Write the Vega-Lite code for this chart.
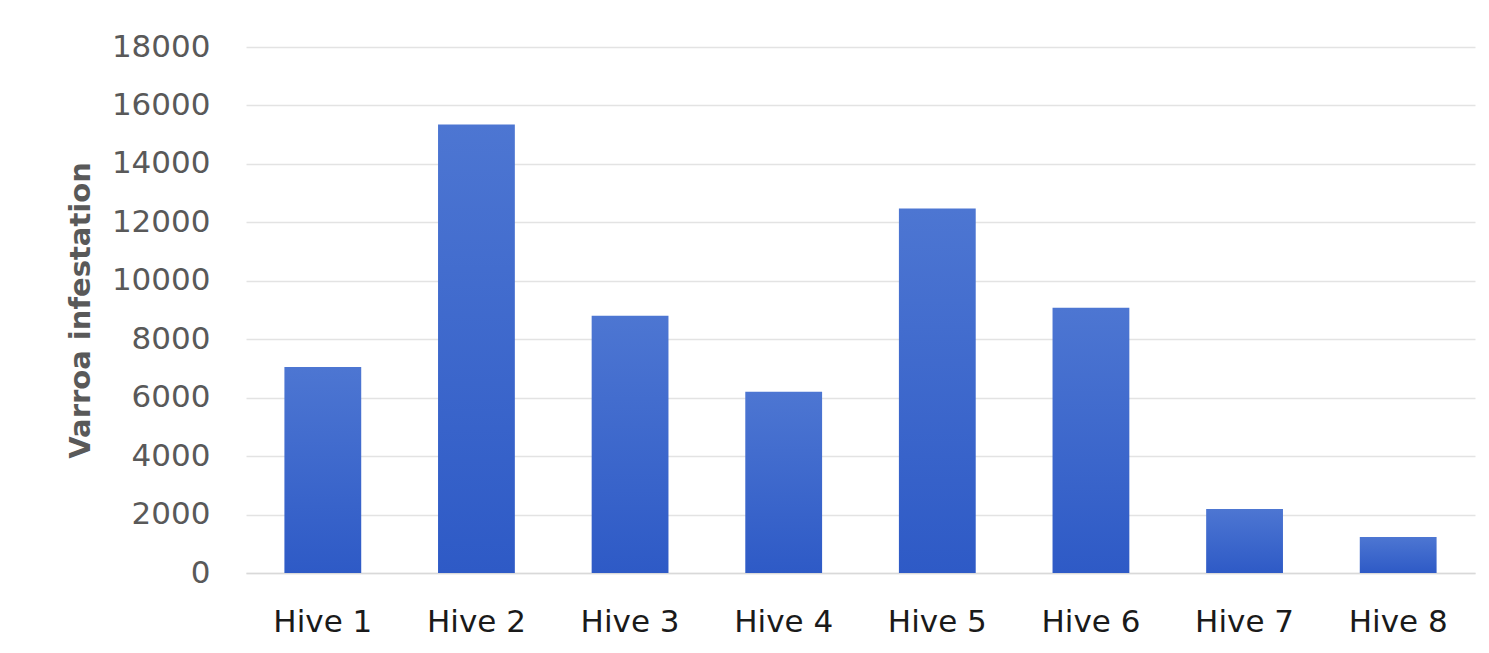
{
  "$schema": "https://vega.github.io/schema/vega-lite/v6.json",
  "autosize": "none",
  "width": 1229,
  "height": 526,
  "padding": {"left": 246, "top": 47, "right": 14, "bottom": 80},
  "background": "white",
  "config": {"view": {"stroke": null}, "font": "DejaVu Sans"},
  "data": {"values": [
    {"hive": "Hive 1", "value": 7050},
    {"hive": "Hive 2", "value": 15350},
    {"hive": "Hive 3", "value": 8800},
    {"hive": "Hive 4", "value": 6200},
    {"hive": "Hive 5", "value": 12470},
    {"hive": "Hive 6", "value": 9080},
    {"hive": "Hive 7", "value": 2190},
    {"hive": "Hive 8", "value": 1230}
  ]},
  "mark": {
    "type": "bar",
    "color": {
      "gradient": "linear", "x1": 0, "y1": 0, "x2": 0, "y2": 1,
      "stops": [{"offset": 0, "color": "#4d76d2"}, {"offset": 1, "color": "#2e5ac6"}]
    }
  },
  "encoding": {
    "x": {
      "field": "hive", "type": "nominal", "sort": null,
      "scale": {"paddingInner": 0.5, "paddingOuter": 0.25},
      "axis": {
        "title": null, "labelAngle": 0, "ticks": false,
        "labelFontSize": 31, "labelColor": "#1a1a1a", "labelPadding": 34,
        "domain": true, "domainColor": "#d9d9d9", "domainWidth": 1.5
      }
    },
    "y": {
      "field": "value", "type": "quantitative",
      "scale": {"domain": [0, 18000]},
      "axis": {
        "title": "Varroa infestation", "titleFontSize": 29, "titleFontWeight": "bold",
        "titleColor": "#595959", "titlePadding": 16,
        "values": [0, 2000, 4000, 6000, 8000, 10000, 12000, 14000, 16000, 18000],
        "format": "d", "labelFontSize": 31, "labelColor": "#595959", "labelPadding": 36,
        "ticks": false, "domain": false,
        "grid": true, "gridColor": "#e3e3e3", "gridWidth": 1.5
      }
    }
  }
}
